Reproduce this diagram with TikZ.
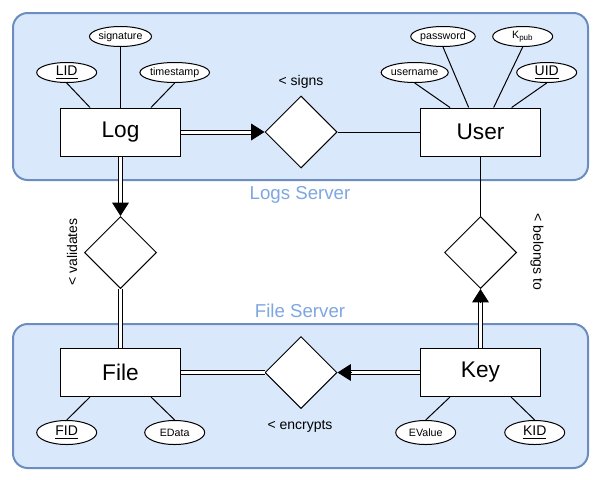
\documentclass[tikz,border=0pt]{standalone}
\usepackage{fontspec}
\setmainfont{Liberation Sans}
\usetikzlibrary{shapes.geometric,arrows.meta}
\definecolor{srvfill}{HTML}{DAE8FC}
\definecolor{srvline}{HTML}{6C8EBF}
\definecolor{srvtext}{HTML}{7EA6E0}

\begin{document}
\begin{tikzpicture}[x=0.75pt,y=-0.75pt,line width=0.75pt,
  server/.style={draw=srvline,fill=srvfill,line width=1.5pt,rounded corners=11pt},
  srvtitle/.style={text=srvtext,font=\fontsize{14}{16}\selectfont},
  entity/.style={draw,fill=white,minimum width=90pt,minimum height=36pt,inner sep=0pt,font=\fontsize{17}{20}\selectfont},
  attr/.style={draw,fill=white,ellipse,minimum width=45pt,minimum height=15pt,inner sep=0pt,font=\fontsize{8}{10}\selectfont},
  idattr/.style={attr,font=\fontsize{10.5}{12}\selectfont},
  rel/.style={draw,fill=white,diamond,minimum width=54pt,minimum height=54pt,inner sep=0pt},
  dbl/.style={double,double distance=2.25pt},
  tip/.style={-{Triangle[length=10pt,width=12.5pt]}},
  lbl/.style={font=\fontsize{10.5}{12}\selectfont}]
\useasboundingbox (0,0) rectangle (598,479);
% servers
\draw[server] (13,13) rectangle (588,180);
\draw[server] (13,324) rectangle (588,468);
\node[srvtitle] (logsrv) at (300,195) {Logs Server};
\node[srvtitle] (filesrv) at (300,311) {File Server};

% entities and relations
\node[entity] (log) at (120.5,132) {Log};
\node[entity] (user) at (480.5,132) {User};
\node[entity] (file) at (120.5,372.5) {File};
\node[entity] (key) at (480.5,372.5) {Key};
\node[rel] (signs) at (301,132) {};
\node[rel] (enc) at (301,372.5) {};
\node[rel] (valid) at (120.5,252.5) {};
\node[rel] (belongs) at (480.5,252.5) {};

% attributes
\node[idattr] (lid) at (66.7,72.5) {\underline{LID}};
\node[attr] (sig) at (120.5,36.5) {signature};
\node[attr] (ts) at (174.7,72.5) {timestamp};
\node[attr] (uname) at (414.7,72.5) {username};
\node[attr] (pw) at (443,36.5) {password};
\node[attr] (kpub) at (522.7,36.5) {K\textsubscript{pub}};
\node[idattr] (uid) at (546.7,72.5) {\underline{UID}};
\node[idattr,minimum height=18pt] (fid) at (66.7,432.5) {\underline{FID}};
\node[attr,minimum height=18pt] (edata) at (174.7,432.5) {EData};
\node[attr,minimum height=18pt] (evalue) at (425.7,432.5) {EValue};
\node[idattr,minimum height=18pt] (kid) at (534.7,432.5) {\underline{KID}};

\draw (lid.south) -- ([xshift=22.5pt]log.north west);
\draw (sig) -- (log);
\draw (ts.south) -- ([xshift=-22.5pt]log.north east);
\draw (uname.south) -- ([xshift=22.5pt]user.north west);
\draw (pw.south) -- ([xshift=36.5pt]user.north west);
\draw (kpub.south) -- ([xshift=-35.5pt]user.north east);
\draw (uid.south) -- ([xshift=-22pt]user.north east);
\draw (fid.north) -- ([xshift=22.5pt]file.south west);
\draw (edata.north) -- ([xshift=-22.5pt]file.south east);
\draw (evalue.north) -- ([xshift=22.5pt]key.south west);
\draw (kid.north) -- ([xshift=-22.5pt]key.south east);

% relationships
\draw[dbl,shorten >=8pt] (log) -- (signs);
\draw[tip] ([xshift=-10pt]signs.west) -- (signs.west);
\draw (signs) -- (user);
\draw[dbl,shorten >=8pt] (log) -- (valid);
\draw[tip] ([yshift=10pt]valid.north) -- (valid.north);
\draw[dbl] (valid) -- (file);
\draw (user) -- (belongs);
\draw[dbl,shorten >=8pt] (key) -- (belongs);
\draw[tip] ([yshift=-10pt]belongs.south) -- (belongs.south);
\draw[dbl,shorten >=8pt] (key) -- (enc);
\draw[tip] ([xshift=10pt]enc.east) -- (enc.east);
\draw[dbl] (enc) -- (file);

\node[lbl] (signslbl) at (301,82) {< signs};
\node[lbl] (enclbl) at (300,426) {< encrypts};
\node[lbl,rotate=90] (validlbl) at (72,252) {< validates};
\node[lbl,rotate=-90] (belongslbl) at (537,252) {< belongs to};
\end{tikzpicture}
\end{document}
